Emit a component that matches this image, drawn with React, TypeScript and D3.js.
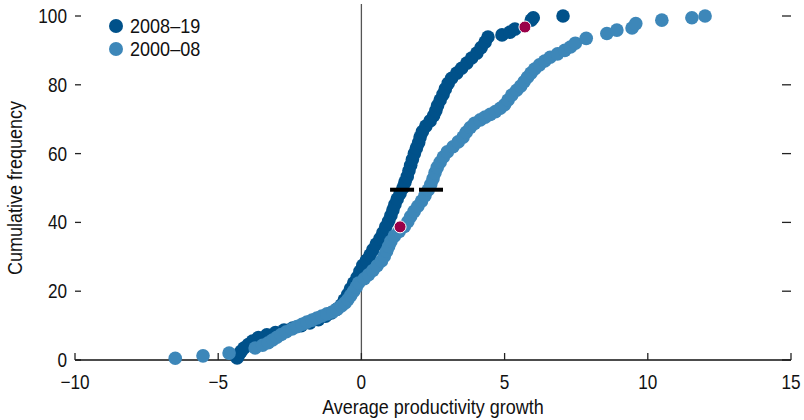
import React from "react"
import * as d3 from "d3"

// 2008–19: average productivity growth and cumulative frequency
const growth0819 = [
  -4.34, -4.28, -4.2, -4.1, -3.95, -3.8, -3.6, -3.3, -3.0, -2.7, -2.4, -2.1, -1.8, -1.5, -1.25, -1.05,
  -0.85, -0.7, -0.6, -0.48, -0.38, -0.27, -0.15, -0.05, 0.05, 0.18, 0.3, 0.4, 0.52, 0.65, 0.75, 0.85,
  0.95, 1.03, 1.1, 1.17, 1.25, 1.35, 1.45, 1.52, 1.6, 1.66, 1.72, 1.78, 1.85, 1.92, 2.0, 2.05, 2.13,
  2.25, 2.4, 2.52, 2.6, 2.66, 2.75, 2.85, 2.93, 3.03, 3.15, 3.33, 3.5, 3.68, 3.85, 4.03, 4.18, 4.32,
  4.42, 4.91, 5.19, 5.36, 5.93, 6.0, 7.04,
]
const freq0819 = [
  0.6, 1.5, 2.5, 3.5, 4.5, 5.5, 6.5, 7.3, 8.0, 8.7, 9.3, 10.0, 10.8, 11.7, 12.7, 13.7,
  14.8, 16.0, 17.4, 19.0, 20.7, 22.4, 24.0, 25.8, 27.5, 29.0, 30.5, 32.0, 33.7, 35.3, 37.0, 38.7,
  40.3, 42.0, 43.6, 45.2, 46.8, 48.4, 50.0, 51.7, 53.3, 55.0, 56.6, 58.3, 60.0, 61.6, 63.2, 64.8, 66.4,
  68.0, 69.5, 71.0, 72.5, 74.0, 75.6, 77.2, 78.8, 80.4, 81.9, 83.4, 84.8, 86.3, 87.8, 89.2, 90.8, 92.4,
  93.9, 94.5, 95.3, 96.2, 98.8, 99.5, 100,
]

// 2000–08
const growth0008 = [
  -6.5, -5.53, -4.62, -3.71, -3.45, -3.25, -3.1, -2.95, -2.8, -2.62, -2.42, -2.25, -2.07, -1.9, -1.72,
  -1.55, -1.38, -1.2, -1.0, -0.85, -0.7, -0.57, -0.47, -0.37, -0.27, -0.18, -0.1, 0.1, 0.25, 0.4, 0.55,
  0.7, 0.8, 0.88, 0.95, 1.03, 1.15, 1.32, 1.5, 1.62, 1.72, 1.84, 1.97, 2.1, 2.22, 2.33, 2.42, 2.5, 2.57,
  2.65, 2.75, 2.86, 3.0, 3.2, 3.38, 3.55, 3.66, 3.8, 3.95, 4.15, 4.32, 4.5, 4.68, 4.85, 5.0, 5.12, 5.25,
  5.42, 5.56, 5.68, 5.8, 5.92, 6.05, 6.22, 6.4, 6.59, 6.85, 7.1, 7.3, 7.47, 7.85, 8.57, 8.92, 9.45,
  9.58, 10.49, 11.54, 12.0,
]
const freq0008 = [
  0.5, 1.2, 2.0, 3.5, 4.3, 5.0, 5.8, 6.6, 7.4, 8.2, 9.0, 9.7, 10.4, 11.0, 11.6,
  12.2, 12.8, 13.4, 14.0, 14.8, 15.7, 16.6, 17.6, 18.8, 20.0, 21.2, 22.4, 23.6, 24.8, 26.0, 27.4,
  28.8, 30.2, 31.6, 33.0, 34.5, 36.0, 37.4, 38.8, 40.2, 41.7, 43.2, 44.7, 46.2, 47.8, 49.4, 51.0, 52.7, 54.4,
  56.0, 57.5, 59.0, 60.5, 62.0, 63.4, 64.8, 66.2, 67.6, 68.8, 69.8, 70.6, 71.4, 72.2, 73.2, 74.2, 75.6, 77.0,
  78.4, 79.6, 80.9, 82.2, 83.4, 84.6, 85.8, 86.9, 88.0, 89.0, 90.0, 91.0, 92.1, 93.5, 94.9, 95.9, 96.5,
  97.8, 98.8, 99.5, 100,
]

// medians (2008–19, 2000–08)
const medianGrowth = [1.42, 2.43]
const medianFreq = [49.5, 49.5]

// highlighted economy
const highlightGrowth = [1.35, 5.71]
const highlightFreq = [38.7, 96.8]

const xTicks = [-10, -5, 0, 5, 10, 15]
const yTicks = [0, 20, 40, 60, 80, 100]
const seriesNames = ["2008–19", "2000–08"]

const DARK = "#00518a"
const LIGHT = "#3d87b9"
const RED = "#9a0049"
const FONT = "'Liberation Sans', Arial, sans-serif"

// condensed-looking text: squeeze horizontally
const Label = ({ x, y, anchor = "start", size = 20, sx = 0.86, rotate = 0, children }) => (
  <text
    transform={`translate(${x},${y}) rotate(${rotate}) scale(${sx},1)`}
    textAnchor={anchor}
    fontSize={size}
    fill="#111"
  >
    {children}
  </text>
)

export default function App() {
  const width = 804
  const height = 420
  const x = d3.scaleLinear().domain([-10, 15]).range([75, 791])
  const y = d3.scaleLinear().domain([0, 100]).range([360, 16])
  const fmt = d3.format("")

  const dark = growth0819.map((g, i) => [g, freq0819[i]])
  const light = growth0008.map((g, i) => [g, freq0008[i]])
  const colors = [DARK, LIGHT]

  return (
    <svg width={width} height={height} style={{ position: "absolute", left: 0, top: 0 }} fontFamily={FONT}>
      <rect width={width} height={height} fill="#fff" />

      {/* zero line */}
      <line x1={x(0)} x2={x(0)} y1={y(0)} y2={4} stroke="#555" strokeWidth={1.3} />

      {/* y ticks, both sides */}
      {yTicks.map((t) => (
        <g key={t}>
          <line x1={x(-10)} x2={x(-10) + 6} y1={y(t)} y2={y(t)} stroke="#222" strokeWidth={1.3} />
          <line x1={x(15) - 9} x2={x(15)} y1={y(t)} y2={y(t)} stroke="#222" strokeWidth={1.3} />
          <Label x={67} y={y(t) + 7} anchor="end">
            {t}
          </Label>
        </g>
      ))}

      {/* x axis */}
      <line x1={x(-10)} x2={x(15)} y1={y(0)} y2={y(0)} stroke="#111" strokeWidth={1.5} />
      {xTicks.map((t) => (
        <g key={t}>
          <line x1={x(t)} x2={x(t)} y1={y(0)} y2={y(0) - 7} stroke="#222" strokeWidth={1.3} />
          <Label x={x(t)} y={389} anchor="middle">
            {fmt(t)}
          </Label>
        </g>
      ))}
      <Label x={(x(-10) + x(15)) / 2} y={414} anchor="middle" sx={0.9}>
        Average productivity growth
      </Label>
      <Label x={22} y={(y(0) + y(100)) / 2} anchor="middle" rotate={-90} sx={0.9}>
        Cumulative frequency
      </Label>

      {/* points */}
      {dark.map((d, i) => (
        <circle key={"d" + i} cx={x(d[0])} cy={y(d[1])} r={6.8} fill={DARK} />
      ))}
      {light.map((d, i) => (
        <circle key={"l" + i} cx={x(d[0])} cy={y(d[1])} r={6.8} fill={LIGHT} />
      ))}

      {/* medians */}
      {medianGrowth.map((m, i) => (
        <rect key={"m" + i} x={x(m) - 12} y={y(medianFreq[i]) - 2} width={24} height={4} fill="#000" />
      ))}

      {/* highlighted */}
      {highlightGrowth.map((g, i) => (
        <circle key={"h" + i} cx={x(g)} cy={y(highlightFreq[i])} r={6} fill={RED} stroke="#fff" strokeWidth={1} />
      ))}

      {/* legend */}
      {seriesNames.map((s, i) => (
        <g key={s}>
          <circle cx={116} cy={26 + i * 23} r={7} fill={colors[i]} />
          <Label x={130} y={26 + i * 23 + 7} size={21}>
            {s}
          </Label>
        </g>
      ))}
    </svg>
  )
}
